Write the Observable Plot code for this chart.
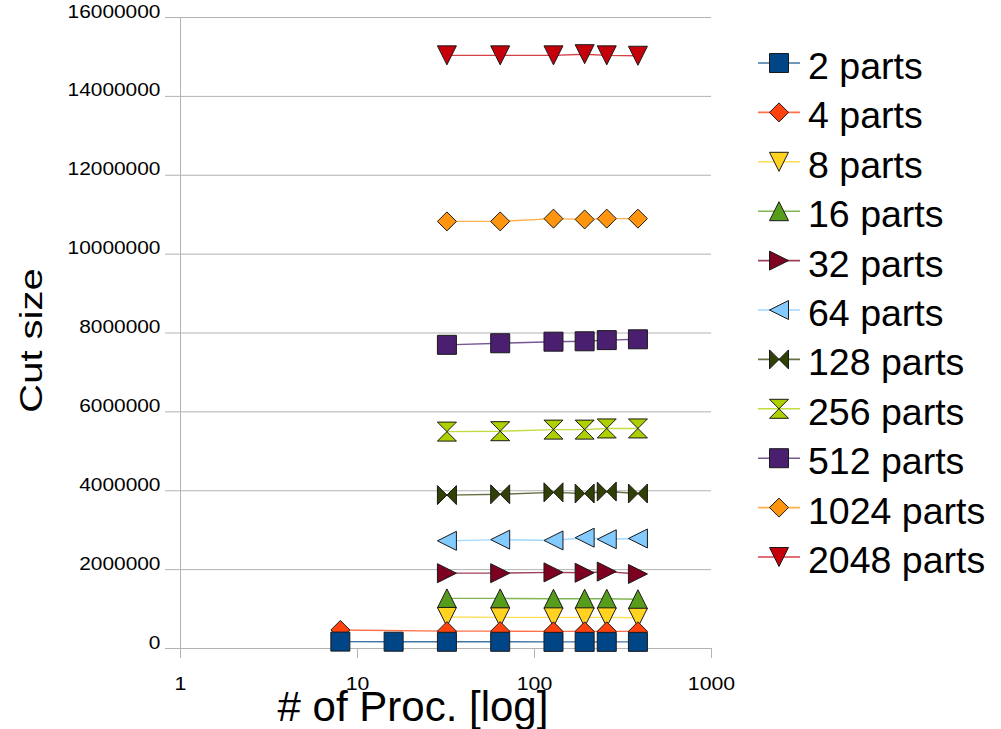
<!DOCTYPE html>
<html>
<head>
<meta charset="utf-8">
<script src="https://cdn.jsdelivr.net/npm/d3@7"></script>
<script src="https://cdn.jsdelivr.net/npm/@observablehq/plot@0.6"></script>
<style>
  html, body { margin: 0; padding: 0; background: #fff; }
  #wrap { position: relative; width: 1001px; height: 729px; font-family: "Liberation Sans", Arial, sans-serif; }
  #legend { position: absolute; left: 0; top: 0; }
</style>
</head>
<body>
<div id="wrap"></div>
<script>
// ---- data ----
const seriesNames = ["2 parts","4 parts","8 parts","16 parts","32 parts","64 parts","128 parts","256 parts","512 parts","1024 parts","2048 parts"];
const seriesColors = ["#004586","#ff420e","#ffd320","#579d1c","#7e0021","#83caff","#314004","#aecf00","#4b1f6f","#ff950e","#c5000b"];
const procs2 = [8, 16, 32, 64, 128, 192, 256, 384];
const procs4 = [8, 32, 64, 128, 192, 256, 384];
const procsRest = [32, 64, 128, 192, 256, 384];
const cut2 = [175000, 172000, 170000, 170000, 168000, 168000, 168000, 168000];
const cut4 = [470000, 440000, 440000, 435000, 435000, 435000, 435000];
const cut8 = [800000, 790000, 790000, 790000, 790000, 780000];
const cut16 = [1270000, 1270000, 1260000, 1260000, 1260000, 1250000];
const cut32 = [1910000, 1910000, 1930000, 1920000, 1950000, 1890000];
const cut64 = [2730000, 2760000, 2740000, 2810000, 2770000, 2790000];
const cut128 = [3890000, 3910000, 3960000, 3930000, 3980000, 3930000];
const cut256 = [5500000, 5510000, 5550000, 5550000, 5580000, 5580000];
const cut512 = [7700000, 7740000, 7780000, 7790000, 7820000, 7840000];
const cut1024 = [10830000, 10830000, 10900000, 10880000, 10900000, 10900000];
const cut2048 = [15040000, 15040000, 15040000, 15070000, 15040000, 15030000];
const xTicks = [1, 10, 100, 1000];
const yTicks = [0, 2000000, 4000000, 6000000, 8000000, 10000000, 12000000, 14000000, 16000000];

const seriesProcs = [procs2, procs4, procsRest, procsRest, procsRest, procsRest, procsRest, procsRest, procsRest, procsRest, procsRest];
const seriesCuts = [cut2, cut4, cut8, cut16, cut32, cut64, cut128, cut256, cut512, cut1024, cut2048];

// ---- custom marker symbols (size = PI * r^2) ----
function mk(points) {
  return { draw(ctx, size) {
    const h = Math.sqrt(size / Math.PI);
    points.forEach(([px, py], i) => i ? ctx.lineTo(px * h, py * h) : ctx.moveTo(px * h, py * h));
    ctx.closePath();
  }};
}
const symSquare = mk([[-1,-1],[1,-1],[1,1],[-1,1]]);
const symDiamond = mk([[0,-1],[1,0],[0,1],[-1,0]]);
const symDown = mk([[-1,-1],[1,-1],[0,1]]);
const symUp = mk([[0,-1],[1,1],[-1,1]]);
const symRight = mk([[-1,-1],[1,0],[-1,1]]);
const symLeft = mk([[1,-1],[-1,0],[1,1]]);
const symBowtie = mk([[-1,-1],[1,1],[1,-1],[-1,1]]);
const symHourglass = mk([[-1,-1],[1,-1],[-1,1],[1,1]]);
const seriesSymbols = [symSquare, symDiamond, symDown, symUp, symRight, symLeft, symBowtie, symHourglass, symSquare, symDiamond, symDown];

// ---- table ----
const rows = [];
seriesNames.forEach((name, i) => {
  seriesProcs[i].forEach((p, j) => rows.push({ series: name, idx: i, procs: p, cut: seriesCuts[i][j] }));
});

const R = 9.5;
const seriesMarks = [];
for (let i = seriesNames.length - 1; i >= 0; i--) {
  const d = rows.filter(r => r.idx === i);
  seriesMarks.push(Plot.line(d, { x: "procs", y: "cut", stroke: seriesColors[i], strokeWidth: 1.4, strokeOpacity: 0.75 }));
  seriesMarks.push(Plot.dot(d, { x: "procs", y: "cut", symbol: seriesSymbols[i], r: R, fill: seriesColors[i], stroke: "#1a1a1a", strokeWidth: 1 }));
}

const chart = Plot.plot({
  width: 1001,
  height: 729,
  marginLeft: 180,
  marginRight: 290,
  marginTop: 17,
  marginBottom: 81,
  style: { fontFamily: "Liberation Sans, Arial, sans-serif", fontSize: "19px", color: "#000", background: "#fff", overflow: "visible" },
  x: { type: "log", domain: [1, 1000], label: null },
  y: { domain: [0, 16000000], label: null },
  marks: [
    Plot.gridY(yTicks, { stroke: "#b3b3b3", strokeOpacity: 1, strokeWidth: 1 }),
    Plot.ruleX([1], { stroke: "#b3b3b3", strokeWidth: 1 }),
    Plot.axisY(yTicks, { tickSize: 15, tickPadding: 5, stroke: "#b3b3b3", fill: "#000", fontSize: 19, tickFormat: d => String(d), label: null }),
    Plot.axisX(xTicks, { tickSize: 10, tickPadding: 31, stroke: "#b3b3b3", fill: "#000", fontSize: 19, tickFormat: d => String(d), label: null }),
    ...seriesMarks
  ]
});

// stretch tick labels horizontally to match the reference look
function stretch(text, k) {
  const t = text.getAttribute("transform") || "";
  const x = +text.getAttribute("x") || 0, y = +text.getAttribute("y") || 0;
  text.setAttribute("x", 0); text.setAttribute("y", 0);
  text.setAttribute("transform", `${t} translate(${x},${y}) scale(${k},1)`);
}
chart.querySelectorAll('g[aria-label="y-axis tick label"] text').forEach(t => stretch(t, 1.1));
chart.querySelectorAll('g[aria-label="x-axis tick label"] text').forEach(t => stretch(t, 1.12));

const svg = d3.select(chart);
svg.append("text")
  .attr("transform", "translate(42,340.5) rotate(-90) scale(1,0.77)")
  .attr("text-anchor", "middle")
  .attr("font-size", 40)
  .attr("fill", "#000")
  .text("Cut size");
svg.append("text")
  .attr("x", 413).attr("y", 721)
  .attr("text-anchor", "middle")
  .attr("font-size", 42)
  .attr("fill", "#000")
  .text("# of Proc. [log]");

const wrap = document.getElementById("wrap");
wrap.appendChild(chart);

// ---- legend ----
const leg = d3.select(wrap).append("svg")
  .attr("id", "legend").attr("width", 1001).attr("height", 729)
  .style("font-family", "Liberation Sans, Arial, sans-serif");
seriesNames.forEach((name, i) => {
  const cy = 63 + i * 49.4;
  const g = leg.append("g").attr("transform", `translate(0,${cy})`);
  g.append("line").attr("x1", 758).attr("x2", 800).attr("y1", 0).attr("y2", 0)
    .attr("stroke", seriesColors[i]).attr("stroke-width", 1.6).attr("stroke-opacity", 0.75);
  g.append("path").attr("transform", "translate(779,0)")
    .attr("d", d3.symbol(seriesSymbols[i], Math.PI * R * R)())
    .attr("fill", seriesColors[i]).attr("stroke", "#1a1a1a").attr("stroke-width", 1);
  g.append("text").attr("x", 808).attr("y", 16).attr("font-size", 37.5).attr("fill", "#000").text(name);
});
</script>
</body>
</html>
